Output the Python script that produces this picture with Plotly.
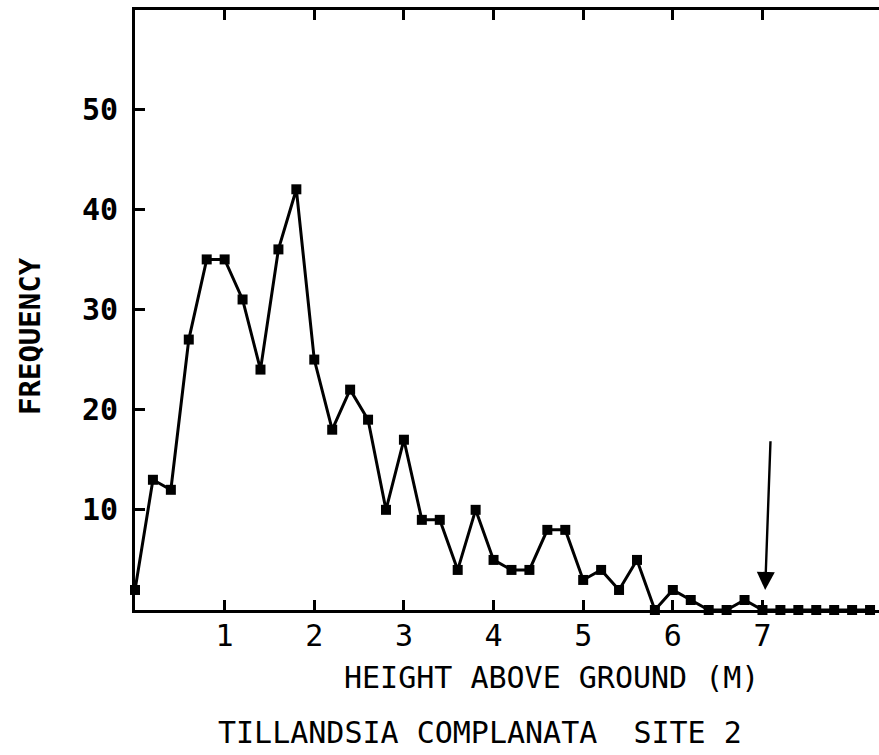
import plotly.graph_objects as go

heights = [0.0, 0.2, 0.4, 0.6, 0.8, 1.0, 1.2, 1.4, 1.6, 1.8,
           2.0, 2.2, 2.4, 2.6, 2.8, 3.0, 3.2, 3.4, 3.6, 3.8,
           4.0, 4.2, 4.4, 4.6, 4.8, 5.0, 5.2, 5.4, 5.6, 5.8,
           6.0, 6.2, 6.4, 6.6, 6.8, 7.0, 7.2, 7.4, 7.6, 7.8,
           8.0, 8.2]
frequency = [2, 13, 12, 27, 35, 35, 31, 24, 36, 42,
             25, 18, 22, 19, 10, 17, 9, 9, 4, 10,
             5, 4, 4, 8, 8, 3, 4, 2, 5, 0,
             2, 1, 0, 0, 1, 0, 0, 0, 0, 0,
             0, 0]
x_ticks = [1, 2, 3, 4, 5, 6, 7]
y_ticks = [10, 20, 30, 40, 50]
y_tick_text = ["10", "20", "30", "40", "50"]
arrow_tip = (7.03, 2.0)
arrow_tail = (7.09, 17.0)

FONT = "DejaVu Sans Mono"

fig = go.Figure()
fig.add_trace(go.Scatter(
    x=heights, y=frequency, mode="lines+markers",
    line=dict(color="black", width=3),
    marker=dict(symbol="square", size=10, color="black"),
    cliponaxis=False, showlegend=False,
))

fig.add_annotation(
    x=arrow_tip[0], y=arrow_tip[1], ax=arrow_tail[0], ay=arrow_tail[1],
    xref="x", yref="y", axref="x", ayref="y",
    showarrow=True, arrowhead=2, arrowsize=1.5, arrowwidth=2.4,
    arrowcolor="black", text="",
)

fig.add_annotation(
    text="HEIGHT ABOVE GROUND (M)", xref="paper", yref="paper",
    x=(551 - 135) / 744, y=-(677 - 610) / 600, xanchor="center", yanchor="middle",
    showarrow=False, font=dict(family=FONT, size=30, color="black"),
)
fig.add_annotation(
    text="TILLANDSIA COMPLANATA  SITE 2", xref="paper", yref="paper",
    x=(480 - 135) / 744, y=-(732 - 610) / 600, xanchor="center", yanchor="middle",
    showarrow=False, font=dict(family=FONT, size=30, color="black"),
)
fig.add_annotation(
    text="<b>FREQUENCY</b>", xref="paper", yref="paper",
    x=-(135 - 30) / 744, y=(610 - 336) / 600, xanchor="center", yanchor="middle",
    textangle=-90, showarrow=False, font=dict(family=FONT, size=29, color="black"),
)

fig.update_layout(
    width=879, height=755,
    margin=dict(l=135, r=0, t=10, b=145),
    paper_bgcolor="white", plot_bgcolor="white",
    xaxis=dict(
        range=[0, 8.3], tickvals=x_ticks, ticks="inside", ticklen=10,
        tickwidth=2.5, tickcolor="black", showline=True, linewidth=3,
        linecolor="black", mirror="ticks", showgrid=False, zeroline=False,
        ticklabelstandoff=-3,
        tickfont=dict(family=FONT, size=30, color="black"),
    ),
    yaxis=dict(
        range=[0, 59.9], tickvals=y_ticks, ticktext=y_tick_text,
        ticks="inside", ticklen=10, tickwidth=2.5, tickcolor="black",
        showline=True, linewidth=3, linecolor="black", showgrid=False,
        zeroline=False, ticklabelstandoff=8,
        tickfont=dict(family=FONT, size=30, color="black", weight="bold"),
    ),
)

fig.write_html(
    "out.html",
    config={"displayModeBar": False},
    post_script="document.body.style.margin='0';document.body.style.overflow='hidden';",
)
